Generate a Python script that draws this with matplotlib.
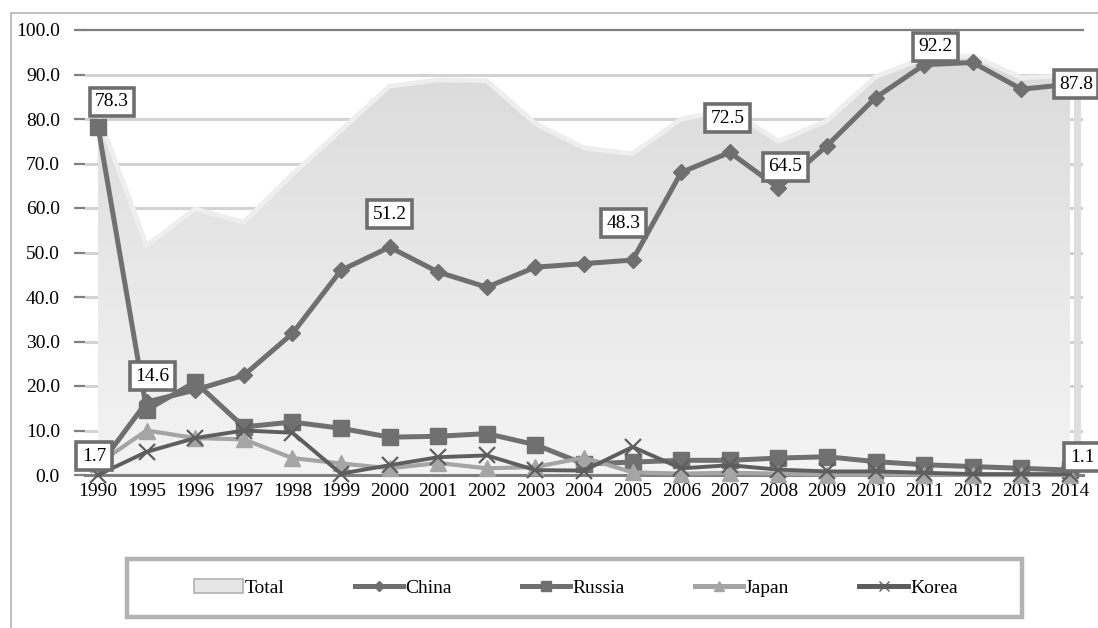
import matplotlib
matplotlib.use('Agg')
import matplotlib.pyplot as plt
import numpy as np
from matplotlib.patches import Rectangle, Patch
from matplotlib.lines import Line2D

years = ['1990', '1995', '1996', '1997', '1998', '1999', '2000', '2001', '2002',
         '2003', '2004', '2005', '2006', '2007', '2008', '2009', '2010', '2011',
         '2012', '2013', '2014']
total = [81.0, 51.6, 59.8, 56.8, 67.6, 77.5, 87.4, 88.8, 88.6, 79.0, 73.5, 72.2,
         80.0, 82.0, 75.0, 79.6, 89.5, 93.7, 94.2, 89.3, 89.7]
china = [1.7, 16.4, 19.1, 22.4, 31.8, 46.0, 51.2, 45.6, 42.2, 46.7, 47.5, 48.3,
         68.0, 72.5, 64.5, 74.0, 84.8, 92.2, 92.7, 86.7, 87.8]
russia = [78.3, 14.6, 20.9, 10.8, 11.9, 10.5, 8.5, 8.7, 9.3, 6.8, 2.5, 2.9,
          3.3, 3.3, 3.8, 4.1, 3.0, 2.3, 1.9, 1.5, 1.1]
japan = [2.5, 10.0, 8.3, 8.0, 3.8, 2.6, 1.5, 2.7, 1.5, 1.8, 3.9, 0.6,
         0.3, 0.5, 0.3, 0.1, 0.1, 0.1, 0.0, 0.0, 0.0]
korea = [0.0, 5.2, 8.3, 10.0, 9.5, 0.3, 2.2, 4.0, 4.4, 1.1, 1.0, 6.3,
         1.5, 2.2, 1.2, 0.8, 0.8, 0.5, 0.2, 0.2, 0.2]
yticks = [0, 10, 20, 30, 40, 50, 60, 70, 80, 90, 100]

# data labels: (series name, year, pixel offset of box centre)
labels = [('russia', '1990', (14, 25)), ('russia', '1995', (6, 34)),
          ('china', '1990', (-4, 11)), ('china', '2000', (0, 33)),
          ('china', '2005', (-9, 37)), ('china', '2007', (-2, 34)),
          ('china', '2008', (7, 21)), ('china', '2011', (11, 18)),
          ('china', '2014', (6, 0)), ('russia', '2014', (12, 13))]

series = {'china': china, 'russia': russia, 'japan': japan, 'korea': korea}

W, H = 1098, 628
fig = plt.figure(figsize=(W / 100, H / 100), dpi=100)
plt.rcParams['font.family'] = ['Liberation Serif', 'DejaVu Serif']
FS = 14

# outer chart border (top & left visible)
fig.patches.append(Rectangle((11 / W, -0.1), 1.2, (H - 13) / H + 0.1,
                             transform=fig.transFigure, fill=False,
                             ec='#b4b4b4', lw=1.2))

left, right, top, bottom = 85, 1083, 30, 475
ax = fig.add_axes([left / W, 1 - bottom / H, (right - left) / W, (bottom - top) / H])
x = np.arange(len(years))
spacing = 48.6
xmin = -(98 - left) / spacing
ax.set_facecolor('white')

# gridlines
for v in yticks[1:-1]:
    ax.axhline(v, color='#d2d2d2', lw=2.2, zorder=0.5)
ax.axhline(100, color='#7f7f7f', lw=1.6, zorder=0.5, clip_on=False)

# Total area with gradient fill
poly = ax.fill_between(x, 0, total, color='none', zorder=1)
grad = np.linspace(0, 1, 256).reshape(-1, 1)
cmap = matplotlib.colors.LinearSegmentedColormap.from_list('g', ['#f4f4f4', '#d9d9d9'])
img = ax.imshow(grad, extent=(x[0], x[-1], 100, 0), aspect='auto', cmap=cmap,
                zorder=1, origin='upper')
img.set_clip_path(poly.get_paths()[0], transform=ax.transData)
ax.set_xlim(xmin, xmin + (right - left) / spacing)
ax.set_ylim(0, 100)
ax.plot(x, total, color='#eeeeee', lw=3.5, zorder=1.2, solid_joinstyle='round')

# side wall
ax.axvspan(x[-1] + 0.08, x[-1] + 0.22, ymin=0, ymax=0.88, color='#dedede', zorder=1.1, lw=0)

ax.plot(x, china, color='#6f6f6f', lw=3.6, marker='D', ms=8.5, zorder=3, clip_on=False)
ax.plot(x, russia, color='#707070', lw=3.6, marker='s', ms=11, zorder=4, clip_on=False)
ax.plot(x, japan, color='#a5a5a5', lw=3.0, marker='^', ms=11, zorder=5, clip_on=False)
ax.plot(x, korea, color='#5e5e5e', lw=2.8, marker='x', ms=11, mew=1.6, zorder=6, clip_on=False)

for name, yr, (dx, dy) in labels:
    i = years.index(yr)
    val = series[name][i]
    ax.annotate(f'{val:.1f}', (x[i], val), xytext=(dx * 0.72, dy * 0.72),
                textcoords='offset points', ha='center', va='center', fontsize=FS,
                annotation_clip=False, zorder=10,
                bbox=dict(boxstyle='square,pad=0.28', fc='white', ec='#6e6e6e', lw=2.6))

ax.set_xticks(x)
ax.set_xticklabels(years, fontsize=FS)
ax.set_yticks(yticks)
ax.set_yticklabels([f'{v:.1f}' for v in yticks], fontsize=FS)
ax.tick_params(axis='y', length=8, width=1.6, color='#7f7f7f', pad=10, direction='out')
ax.tick_params(axis='x', length=0, pad=6)
for s in ['top', 'right', 'left']:
    ax.spines[s].set_visible(False)
ax.spines['bottom'].set_color('#7f7f7f')
ax.spines['bottom'].set_linewidth(2.2)
ax.spines['bottom'].set_zorder(2)

# legend frame
fig.patches.append(Rectangle((127 / W, 1 - 617 / H), (1022 - 127) / W, (617 - 559) / H,
                             transform=fig.transFigure, fill=True, fc='white',
                             ec='#b2b2b2', lw=3.2))
handles = [Patch(fc='#e6e6e6', ec='#b0b0b0', lw=1.2),
           Line2D([], [], color='#6f6f6f', lw=3.6, marker='D', ms=5),
           Line2D([], [], color='#707070', lw=3.6, marker='s', ms=7),
           Line2D([], [], color='#a5a5a5', lw=3.6, marker='^', ms=7),
           Line2D([], [], color='#5e5e5e', lw=3.6, marker='x', ms=7, mew=1)]
leg = fig.legend(handles, ['Total', 'China', 'Russia', 'Japan', 'Korea'],
                 loc='center', bbox_to_anchor=(576 / W, 1 - 588 / H), ncol=5,
                 frameon=False, fontsize=FS, handlelength=2.5, handletextpad=0.1,
                 columnspacing=3.6, handleheight=0.7)

fig.savefig('out.png', dpi=100)
